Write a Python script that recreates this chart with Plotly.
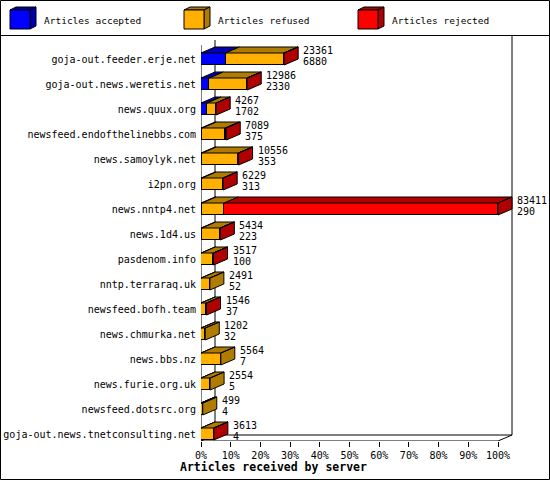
import plotly.graph_objects as go

# servers, top to bottom
servers = [
    "goja-out.feeder.erje.net",
    "goja-out.news.weretis.net",
    "news.quux.org",
    "newsfeed.endofthelinebbs.com",
    "news.samoylyk.net",
    "i2pn.org",
    "news.nntp4.net",
    "news.1d4.us",
    "pasdenom.info",
    "nntp.terraraq.uk",
    "newsfeed.bofh.team",
    "news.chmurka.net",
    "news.bbs.nz",
    "news.furie.org.uk",
    "newsfeed.dotsrc.org",
    "goja-out.news.tnetconsulting.net",
]
offered = [23361, 12986, 4267, 7089, 10556, 6229, 83411, 5434,
           3517, 2491, 1546, 1202, 5564, 2554, 499, 3613]
accepted = [6880, 2330, 1702, 375, 353, 313, 290, 223,
            100, 52, 37, 32, 7, 5, 4, 4]
# rejected is not printed on the chart
rejected = [60, 40, 30, 300, 50, 20, 76861, 25,
            15, 0, 10, 0, 0, 0, 0, 10]
refused = [o - a - r for o, a, r in zip(offered, accepted, rejected)]

pct_ticks = list(range(0, 101, 10))
pct_labels = [f"{p}%" for p in pct_ticks]

# colours: front face, top/side face
BLUE, BLUE_D = "#0000ff", "#0000b0"
ORANGE, ORANGE_D = "#ffb000", "#b07c00"
RED, RED_D = "#ff0000", "#b00000"

FONT = "DejaVu Sans Mono"
W, H = 550, 480
ML, MR, MT, MB = 201, 2, 36, 39
PX_PER_PCT = 2.97
ROW_PX = 25
FIRST_ROW_PX = 59
X_MAX = (W - ML - MR) / PX_PER_PCT
Y_TOP = (MT - FIRST_ROW_PX) / ROW_PX
Y_BOT = (H - MB - FIRST_ROW_PX) / ROW_PX
DX = 14 / PX_PER_PCT  # 3d depth, in axis units
DY = 6 / ROW_PX
BAR_W = 0.48

top = max(offered)
rows = list(range(len(servers)))
acc_pct = [v / top * 100 for v in accepted]
ref_pct = [v / top * 100 for v in refused]
rej_pct = [v / top * 100 for v in rejected]

fig = go.Figure()
for name, vals, col in [("Articles accepted", acc_pct, BLUE),
                        ("Articles refused", ref_pct, ORANGE),
                        ("Articles rejected", rej_pct, RED)]:
    fig.add_trace(go.Bar(
        x=vals, y=rows, orientation="h", name=name, width=BAR_W,
        marker=dict(color=col, line=dict(color="black", width=1)),
        showlegend=False, hoverinfo="skip",
    ))

# top and side faces of the boxes
faces = {BLUE_D: ([], []), ORANGE_D: ([], []), RED_D: ([], [])}
for i in rows:
    x0 = 0
    last = None
    for vals, dark in [(acc_pct, BLUE_D), (ref_pct, ORANGE_D), (rej_pct, RED_D)]:
        v = vals[i]
        if v <= 0:
            continue
        x1 = x0 + v
        yt = i - BAR_W / 2
        xs, ys = faces[dark]
        xs += [x0, x1, x1 + DX, x0 + DX, x0, None]
        ys += [yt, yt, yt - DY, yt - DY, yt, None]
        last = (x1, dark)
        x0 = x1
    x1, dark = last
    yt, yb = i - BAR_W / 2, i + BAR_W / 2
    xs, ys = faces[dark]
    xs += [x1, x1 + DX, x1 + DX, x1, x1, None]
    ys += [yt, yt - DY, yb - DY, yb, yt, None]

for dark, (xs, ys) in faces.items():
    fig.add_trace(go.Scatter(
        x=xs, y=ys, mode="lines", fill="toself", fillcolor=dark,
        line=dict(color="black", width=1), showlegend=False, hoverinfo="skip",
    ))

# value labels: offered / accepted
for i in rows:
    end = offered[i] / top * 100 + DX
    for txt, shift in [(str(offered[i]), 9), (str(accepted[i]), -2)]:
        fig.add_annotation(
            x=end, y=i, text=txt, showarrow=False, xanchor="left",
            yanchor="middle", xshift=3, yshift=shift,
            font=dict(family=FONT, size=10, color="black"),
        )

# walls and floor
floor_f = (H - MB - FIRST_ROW_PX) / ROW_PX
floor_b = floor_f - DY
wall_top = (45 - FIRST_ROW_PX) / ROW_PX
back_top = (40 - FIRST_ROW_PX) / ROW_PX
line = dict(color="black", width=1)
for x0, y0, x1, y1 in [
    (0, wall_top, 0, floor_f),
    (DX, back_top, DX, floor_b),
    (0, floor_f, 100, floor_f),
    (DX, floor_b, 100 + DX, floor_b),
    (0, floor_f, DX, floor_b),
    (100, floor_f, 100 + DX, floor_b),
    (100 + DX, floor_b, 100 + DX, Y_TOP),
]:
    fig.add_shape(type="line", x0=x0, y0=y0, x1=x1, y1=y1, xref="x",
                  yref="y", line=line, layer="below")

# pixel -> paper helpers for frame and legend
pw, ph = W - ML - MR, H - MT - MB


def px(x):
    return (x - ML) / pw


def py(y):
    return (H - MB - y) / ph


fig.add_shape(type="rect", xref="paper", yref="paper", x0=px(0.5), x1=px(549.5),
              y0=py(479.5), y1=py(0.5), line=line)
fig.add_shape(type="line", xref="paper", yref="paper", x0=px(0.5), x1=px(549.5),
              y0=py(35.5), y1=py(35.5), line=line)

legend = [("Articles accepted", BLUE, BLUE_D, 10),
          ("Articles refused", ORANGE, ORANGE_D, 184),
          ("Articles rejected", RED, RED_D, 358)]
for name, col, dark, lx in legend:
    fx0, fx1, fy0, fy1 = lx, lx + 20, 10, 29
    d, e = 6, 3
    fig.add_shape(type="path", xref="paper", yref="paper", fillcolor=dark, line=line,
                  path=f"M{px(fx0)},{py(fy0)} L{px(fx1)},{py(fy0)} L{px(fx1 + d)},{py(fy0 - e)} "
                       f"L{px(fx0 + d)},{py(fy0 - e)} Z")
    fig.add_shape(type="path", xref="paper", yref="paper", fillcolor=dark, line=line,
                  path=f"M{px(fx1)},{py(fy0)} L{px(fx1 + d)},{py(fy0 - e)} L{px(fx1 + d)},{py(fy1 - e)} "
                       f"L{px(fx1)},{py(fy1)} Z")
    fig.add_shape(type="rect", xref="paper", yref="paper", fillcolor=col, line=line,
                  x0=px(fx0), x1=px(fx1), y0=py(fy1), y1=py(fy0))
    fig.add_annotation(xref="paper", yref="paper", x=px(lx + 32), y=py(20),
                       text=name, showarrow=False, xanchor="left", yanchor="middle",
                       font=dict(family=FONT, size=9.5, color="black"))

fig.add_annotation(xref="paper", yref="paper", x=px(273.5), y=py(467),
                   text="<b>Articles received by server</b>", showarrow=False,
                   xanchor="center", yanchor="middle",
                   font=dict(family=FONT, size=11.5, color="black"))

fig.update_layout(
    width=W, height=H, barmode="stack", bargap=0,
    margin=dict(l=ML, r=MR, t=MT, b=MB, autoexpand=False),
    paper_bgcolor="white", plot_bgcolor="white",
    font=dict(family=FONT, size=10, color="black"),
    showlegend=False,
)
fig.update_xaxes(range=[0, X_MAX], tickvals=pct_ticks, ticktext=pct_labels,
                 ticks="outside", ticklen=5, tickcolor="black", showgrid=False,
                 zeroline=False, showline=False, fixedrange=True)
fig.update_yaxes(range=[Y_BOT, Y_TOP], tickvals=rows, ticktext=servers,
                 ticks="", showgrid=False, zeroline=False, showline=False,
                 ticklabelstandoff=4, fixedrange=True)

# page has a default body margin; drop it so the chart sits at the window corner
fig.write_html("out.html", config={"displayModeBar": False},
               post_script="document.body.style.margin='0';")
